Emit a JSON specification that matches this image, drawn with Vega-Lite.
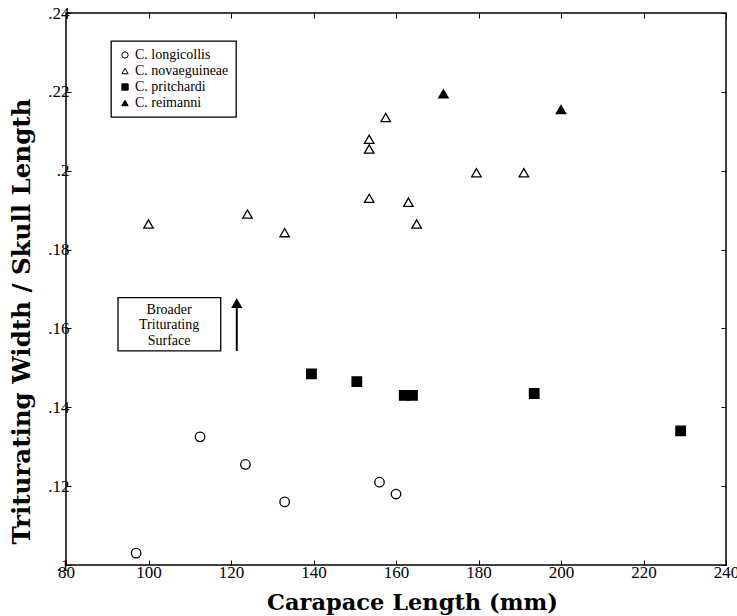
{
  "$schema": "https://vega.github.io/schema/vega-lite/v6.json",
  "autosize": "none",
  "width": 660,
  "height": 552,
  "padding": {"left": 66, "top": 13, "right": 11, "bottom": 51},
  "background": "white",
  "config": {
    "view": {"stroke": "black", "strokeWidth": 1.5},
    "font": "Liberation Serif",
    "legend": {
      "orient": "none", "legendX": 45, "legendY": 28,
      "strokeColor": "black", "strokeWidth": 1.3, "padding": 7,
      "labelFont": "Liberation Serif", "labelFontSize": 14, "labelColor": "black",
      "symbolSize": 40, "symbolStrokeWidth": 1, "rowPadding": 2, "labelOffset": 3,
      "fillColor": "white"
    }
  },
  "datasets": {
    "pts": [
      {"species": "C. longicollis", "cl": 97, "ratio": 0.103},
      {"species": "C. longicollis", "cl": 112.5, "ratio": 0.1325},
      {"species": "C. longicollis", "cl": 123.5, "ratio": 0.1255},
      {"species": "C. longicollis", "cl": 133, "ratio": 0.116},
      {"species": "C. longicollis", "cl": 156, "ratio": 0.121},
      {"species": "C. longicollis", "cl": 160, "ratio": 0.118},
      {"species": "C. novaeguineae", "cl": 100, "ratio": 0.1865},
      {"species": "C. novaeguineae", "cl": 124, "ratio": 0.189},
      {"species": "C. novaeguineae", "cl": 133, "ratio": 0.1843},
      {"species": "C. novaeguineae", "cl": 153.5, "ratio": 0.208},
      {"species": "C. novaeguineae", "cl": 153.5, "ratio": 0.2055},
      {"species": "C. novaeguineae", "cl": 153.5, "ratio": 0.193},
      {"species": "C. novaeguineae", "cl": 157.5, "ratio": 0.2135},
      {"species": "C. novaeguineae", "cl": 163, "ratio": 0.192},
      {"species": "C. novaeguineae", "cl": 165, "ratio": 0.1865},
      {"species": "C. novaeguineae", "cl": 179.5, "ratio": 0.1995},
      {"species": "C. novaeguineae", "cl": 191, "ratio": 0.1995},
      {"species": "C. pritchardi", "cl": 139.5, "ratio": 0.1485},
      {"species": "C. pritchardi", "cl": 150.5, "ratio": 0.1465},
      {"species": "C. pritchardi", "cl": 162, "ratio": 0.143},
      {"species": "C. pritchardi", "cl": 164, "ratio": 0.143},
      {"species": "C. pritchardi", "cl": 193.5, "ratio": 0.1435},
      {"species": "C. pritchardi", "cl": 229, "ratio": 0.134},
      {"species": "C. reimanni", "cl": 171.5, "ratio": 0.2195},
      {"species": "C. reimanni", "cl": 200, "ratio": 0.2155}
    ],
    "box": [{"x1": 92.6, "x2": 117.5, "y1": 0.1543, "y2": 0.1678}],
    "boxtext": [
      {"x": 105, "y": 0.1648, "t": "Broader"},
      {"x": 105, "y": 0.1608, "t": "Triturating"},
      {"x": 105, "y": 0.1568, "t": "Surface"}
    ],
    "arrow": [{"x": 121.4, "y1": 0.1543, "y2": 0.1665}],
    "arrowhead": [{"x": 121.4, "y": 0.1663}]
  },
  "layer": [
    {
      "data": {"name": "box"},
      "mark": {"type": "rect", "fill": "white", "stroke": "black", "strokeWidth": 1.3},
      "encoding": {
        "x": {"field": "x1", "type": "quantitative",
          "scale": {"domain": [80, 240], "nice": false, "zero": false},
          "axis": {
            "title": "Carapace Length (mm)",
            "values": [80, 100, 120, 140, 160, 180, 200, 220, 240],
            "tickSize": -5, "tickColor": "black", "domain": false, "grid": false,
            "labelFont": "Liberation Serif", "labelFontSize": 17, "labelColor": "black",
            "labelPadding": 4, "labelFlush": false,
            "titleFont": "DejaVu Serif", "titleFontSize": 22.5, "titleFontWeight": "bold",
            "titleColor": "black", "titleX": 346, "titleY": 37, "titleBaseline": "middle", "titleAnchor": "middle", "titleAlign": "center"
          }
        },
        "x2": {"field": "x2"},
        "y": {"field": "y1", "type": "quantitative",
          "scale": {"domain": [0.1, 0.24], "nice": false, "zero": false},
          "axis": {
            "title": "Triturating Width / Skull Length",
            "values": [0.1, 0.12, 0.14, 0.16, 0.18, 0.2, 0.22, 0.24],
            "labelExpr": "substring(format(datum.value, '.2~f'), 1)",
            "tickSize": -5, "tickColor": "black", "domain": false, "grid": false,
            "labelFont": "Liberation Serif", "labelFontSize": 17, "labelColor": "black",
            "labelPadding": 2, "labelFlush": false,
            "titleFont": "DejaVu Serif", "titleFontSize": 24.5, "titleFontWeight": "bold",
            "titleColor": "black", "titleX": -44, "titleY": 308, "titleAngle": -90, "titleBaseline": "middle", "titleAlign": "center", "titleAnchor": "middle"
          }
        },
        "y2": {"field": "y2"}
      }
    },
    {
      "data": {"name": "boxtext"},
      "mark": {"type": "text", "font": "Liberation Serif", "fontSize": 14, "color": "black", "baseline": "middle", "align": "center"},
      "encoding": {
        "x": {"field": "x", "type": "quantitative", "axis": null},
        "y": {"field": "y", "type": "quantitative", "axis": null},
        "text": {"field": "t"}
      }
    },
    {
      "data": {"name": "arrow"},
      "mark": {"type": "rule", "stroke": "black", "strokeWidth": 2},
      "encoding": {
        "x": {"field": "x", "type": "quantitative", "axis": null},
        "y": {"field": "y1", "type": "quantitative", "axis": null},
        "y2": {"field": "y2"}
      }
    },
    {
      "data": {"name": "arrowhead"},
      "mark": {"type": "point", "shape": "triangle-up", "filled": true, "fill": "black", "stroke": "black", "size": 60, "opacity": 1},
      "encoding": {
        "x": {"field": "x", "type": "quantitative",
          "axis": {"orient": "top", "values": [80, 100, 120, 140, 160, 180, 200, 220, 240], "labels": false, "title": null, "tickSize": -5, "tickColor": "black", "domain": false, "grid": false}
        },
        "y": {"field": "y", "type": "quantitative",
          "axis": {"orient": "right", "values": [0.1, 0.12, 0.14, 0.16, 0.18, 0.2, 0.22, 0.24], "labels": false, "title": null, "tickSize": -5, "tickColor": "black", "domain": false, "grid": false}
        }
      }
    },
    {
      "data": {"name": "pts"},
      "mark": {"type": "point", "filled": true, "strokeWidth": 1.3, "opacity": 1, "size": 90},
      "encoding": {
        "x": {"field": "cl", "type": "quantitative", "axis": null},
        "y": {"field": "ratio", "type": "quantitative", "axis": null},
        "shape": {"field": "species", "type": "nominal",
          "scale": {"domain": ["C. longicollis", "C. novaeguineae", "C. pritchardi", "C. reimanni"], "range": ["circle", "triangle-up", "square", "triangle-up"]},
          "legend": {"title": null}
        },
        "fill": {"field": "species", "type": "nominal",
          "scale": {"domain": ["C. longicollis", "C. novaeguineae", "C. pritchardi", "C. reimanni"], "range": ["white", "white", "black", "black"]},
          "legend": {"title": null}
        },
        "stroke": {"field": "species", "type": "nominal",
          "scale": {"domain": ["C. longicollis", "C. novaeguineae", "C. pritchardi", "C. reimanni"], "range": ["black", "black", "black", "black"]},
          "legend": {"title": null}
        }
      }
    }
  ],
  "resolve": {"scale": {"x": "shared", "y": "shared"}, "axis": {"x": "independent", "y": "independent"}}
}
